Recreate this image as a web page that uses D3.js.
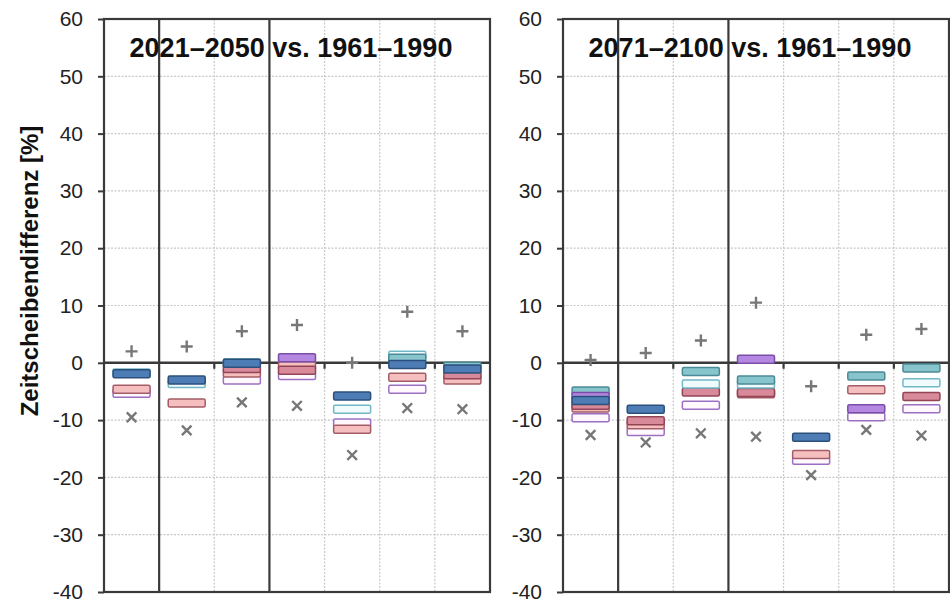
<!DOCTYPE html>
<html>
<head>
<meta charset="utf-8">
<script src="https://cdn.jsdelivr.net/npm/d3@7"></script>
<style>
  html, body { margin: 0; padding: 0; background: #fff; }
  svg { display: block; }
</style>
</head>
<body>
<script>
// Periods compared (one panel each)
const panelTitles = ["2021\u20132050 vs. 1961\u20131990", "2071\u20132100 vs. 1961\u20131990"];
// Seven regions / groups per panel
const groups = ["G1", "G2", "G3", "G4", "G5", "G6", "G7"];
const yTicks = [60, 50, 40, 30, 20, 10, 0, -10, -20, -30, -40];

// Ensemble extremes per group: [near future, far future]
const maxValues = [
  [2.0, 2.85, 5.5, 6.6, 0.0, 8.9, 5.5],
  [0.5, 1.7, 3.9, 10.5, -4.1, 4.9, 5.9]
];
const minValues = [
  [-9.5, -11.8, -6.9, -7.5, -16.1, -7.9, -8.1],
  [-12.6, -13.9, -12.3, -12.9, -19.6, -11.7, -12.7]
];

// Model-chain results (null = not shown), [near future, far future]
const purpleOpen = [
  [-5.3, null, -3.0, -2.2, -10.5, -4.6, null],
  [-9.6, -12.0, -7.4, null, -17.0, -9.4, -8.0]
];
const pink = [
  [-4.6, -7.0, -1.8, -0.5, -11.6, -2.5, -3.0],
  [-7.9, -10.8, null, -5.4, -16.0, -4.7, null]
];
const rose = [
  [null, null, -1.0, -1.3, null, null, -2.1],
  [-7.4, -10.1, -5.1, -5.2, null, null, -5.9]
];
const cyanOpen = [
  [-1.8, -3.6, 0.0, null, -8.1, 1.3, null],
  [null, null, -3.7, -3.7, null, null, -3.5]
];
const teal = [
  [null, null, null, null, null, 0.8, -0.6],
  [-4.9, null, -1.5, -3.0, null, -2.3, -0.9]
];
const purple = [
  [null, null, null, 0.9, null, null, null],
  [-5.9, null, null, 0.6, null, -8.0, null]
];
const darkBlue = [
  [-1.9, -3.0, -0.1, null, -5.8, -0.3, -1.1],
  [-6.6, -8.1, null, null, -13.0, null, null]
];

const series = [
  { values: purpleOpen, fill: "#fff8ff", stroke: "#9b70c2" },
  { values: pink,       fill: "#f5bfbf", stroke: "#a45c66" },
  { values: rose,       fill: "#d98a9a", stroke: "#934556" },
  { values: cyanOpen,   fill: "#f0fbfd", stroke: "#72b8c6" },
  { values: teal,       fill: "#88c4cc", stroke: "#4a8a96" },
  { values: purple,     fill: "#b487e0", stroke: "#7a4ea8" },
  { values: darkBlue,   fill: "#4d7db4", stroke: "#2c4f7c" }
];

const W = 950, H = 602;
const svg = d3.select("body").append("svg").attr("width", W).attr("height", H);

const plotTop = 19, plotBottom = 592;
const panelLeft = [104, 563];
const panelWidth = 386;
const y = d3.scaleLinear().domain([-40, 60]).range([plotBottom, plotTop]);

const boxW = 37, boxH = 8, mk = 6;
const thickAfter = [0, 2]; // group indices followed by a solid separator
const font = "Liberation Sans, Arial, sans-serif";

// Axis title
svg.append("text")
  .attr("transform", "translate(38,271) rotate(-90)")
  .attr("text-anchor", "middle")
  .attr("font-family", font)
  .attr("font-weight", "bold")
  .attr("font-size", 24)
  .attr("fill", "#111")
  .text("Zeitscheibendifferenz [%]");

panelLeft.forEach((px, p) => {
  const x = d3.scaleBand().domain(groups).range([px, px + panelWidth]).padding(0);
  const g = svg.append("g");

  // horizontal gridlines
  g.selectAll("line.hgrid").data(yTicks.filter(t => t !== 0 && t !== 60 && t !== -40)).enter()
    .append("line")
    .attr("x1", px).attr("x2", px + panelWidth)
    .attr("y1", d => y(d)).attr("y2", d => y(d))
    .attr("stroke", "#c8c8c8").attr("stroke-width", 1.2)
    .attr("stroke-dasharray", "2,1.5");

  // vertical separators between groups
  groups.slice(0, -1).forEach((gname, i) => {
    const xv = x(gname) + x.bandwidth();
    const thick = thickAfter.includes(i);
    g.append("line")
      .attr("x1", xv).attr("x2", xv).attr("y1", plotTop).attr("y2", plotBottom)
      .attr("stroke", thick ? "#3a3a3a" : "#c8c8c8")
      .attr("stroke-width", thick ? 2.2 : 1.2)
      .attr("stroke-dasharray", thick ? null : "2,1.5");
    if (!thick) {
      g.append("line")
        .attr("x1", xv).attr("x2", xv).attr("y1", y(0)).attr("y2", y(0) + 6)
        .attr("stroke", "#3a3a3a").attr("stroke-width", 2.2);
    }
  });

  // y axis
  const axis = d3.axisLeft(y).tickValues(yTicks).tickSize(6).tickPadding(15).tickFormat(d => String(d));
  const ag = g.append("g").attr("transform", `translate(${px},0)`).call(axis);
  ag.select(".domain").remove();
  ag.selectAll(".tick line").attr("stroke", "#3a3a3a").attr("stroke-width", 2);
  ag.selectAll(".tick text")
    .attr("font-family", font)
    .attr("font-size", 21).attr("fill", "#222");

  // zero line
  g.append("line")
    .attr("x1", px).attr("x2", px + panelWidth).attr("y1", y(0)).attr("y2", y(0))
    .attr("stroke", "#3a3a3a").attr("stroke-width", 2.4);

  // boxes
  series.forEach(s => {
    const vals = s.values[p];
    g.selectAll(null).data(groups.map((gn, i) => ({ gn, v: vals[i] })).filter(d => d.v !== null))
      .enter().append("rect")
      .attr("x", d => x(d.gn) + (x.bandwidth() - boxW) / 2)
      .attr("y", d => y(d.v) - boxH / 2)
      .attr("width", boxW).attr("height", boxH)
      .attr("rx", 1.5)
      .attr("fill", s.fill).attr("stroke", s.stroke).attr("stroke-width", 1.5);
  });

  // max (+) and min (x) markers
  groups.forEach((gn, i) => {
    const cx = x(gn) + x.bandwidth() / 2;
    const cyMax = y(maxValues[p][i]);
    const cyMin = y(minValues[p][i]);
    g.append("path")
      .attr("d", `M${cx - mk},${cyMax}H${cx + mk}M${cx},${cyMax - mk}V${cyMax + mk}`)
      .attr("stroke", "#777").attr("stroke-width", 2.4).attr("fill", "none");
    const k = mk * 0.8;
    g.append("path")
      .attr("d", `M${cx - k},${cyMin - k}L${cx + k},${cyMin + k}M${cx + k},${cyMin - k}L${cx - k},${cyMin + k}`)
      .attr("stroke", "#777").attr("stroke-width", 2.4).attr("fill", "none");
  });

  // frame
  g.append("rect")
    .attr("x", px).attr("y", plotTop).attr("width", panelWidth).attr("height", plotBottom - plotTop)
    .attr("fill", "none").attr("stroke", "#3a3a3a").attr("stroke-width", 2.2);

  // panel title
  g.append("text")
    .attr("x", px + panelWidth / 2 - 6).attr("y", 57)
    .attr("text-anchor", "middle")
    .attr("font-family", font)
    .attr("font-weight", "bold").attr("font-size", 27)
    .attr("fill", "#111")
    .text(panelTitles[p]);
});
</script>
</body>
</html>
